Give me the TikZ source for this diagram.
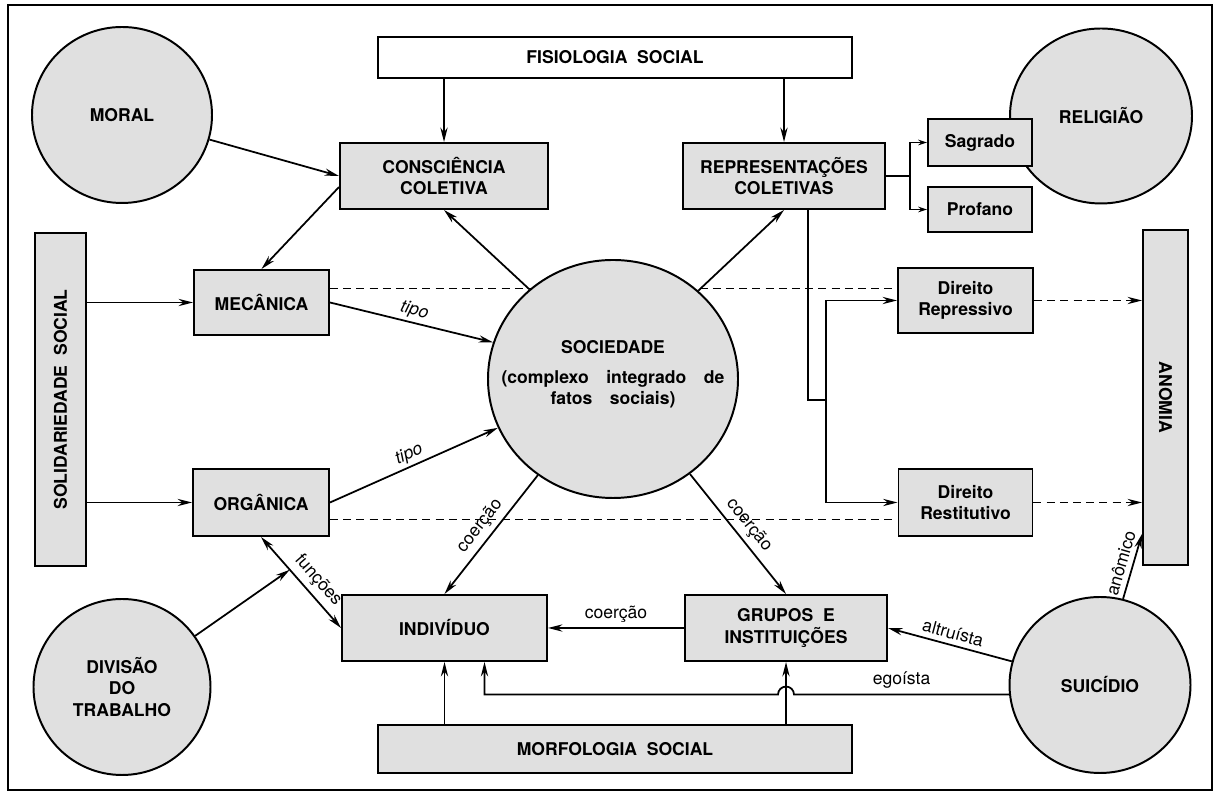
\documentclass[tikz,border=0pt]{standalone}
\usepackage{fontspec}
\setmainfont{TeX Gyre Heros}
\usetikzlibrary{arrows.meta,shapes.geometric,backgrounds,calc}
\begin{document}
\begin{tikzpicture}[x=.25cm,y=.25cm,>={Stealth[length=3.6mm,width=1.8mm]},line width=1.25pt,
  box/.style={draw,line width=1.4pt,fill=black!12,align=center,inner sep=0pt,font=\fontsize{12.5}{15}\selectfont\bfseries},
  blob/.style={box,ellipse},
  lbl/.style={font=\fontsize{12.5}{14}\selectfont,inner sep=3.5pt},
  dsh/.style={dash pattern=on 2mm off 1.3mm}]
\useasboundingbox (0,0) rectangle (121.6,79.6);
\draw[line width=1.6pt] (.8,.6) rectangle (121.2,79.1);
\node[box,fill=white,minimum width=11.85cm,minimum height=1.025cm] (fis) at (61.5,73.85) {FISIOLOGIA\ \ SOCIAL};
\node[box,minimum width=11.85cm,minimum height=1.2cm] (morf) at (61.5,4.7) {MORFOLOGIA\ \ SOCIAL};
\node[blob,minimum width=4.5cm,minimum height=4.4cm] (moral) at (12.2,68.1) {MORAL};
\node[blob,minimum width=4.55cm,minimum height=4.375cm] (rel) at (110.1,68) {RELIGIÃO};
\node[blob,minimum width=4.425cm,minimum height=4.4cm] (div) at (12.2,10.9) {DIVISÃO\\DO\\TRABALHO};
\node[blob,minimum width=4.525cm,minimum height=4.4cm] (suic) at (110,11.1) {SUICÍDIO};
\node[blob,minimum width=6.25cm,minimum height=5.95cm] (soc) at (61.3,41.7) {};
\node[font=\fontsize{12.5}{15}\selectfont\bfseries,align=center,yshift=1.2mm] (soctxt) at (soc) {SOCIEDADE\\[6pt](complexo\quad integrado\quad de\\fatos\quad sociais)};
\node[box,minimum width=5.2cm,minimum height=1.65cm] (cons) at (44.4,62) {CONSCIÊNCIA\\COLETIVA};
\node[box,minimum width=5.05cm,minimum height=1.65cm] (rep) at (78.4,62) {REPRESENTAÇÕES\\COLETIVAS};
\node[box,minimum width=2.6cm,minimum height=1.175cm] (sag) at (98,65.35) {Sagrado};
\node[box,minimum width=2.6cm,minimum height=1.125cm] (prof) at (98,58.65) {Profano};
\node[box,minimum width=1.275cm,minimum height=8.325cm] (soli) at (6.05,39.65) {\rotatebox{90}{SOLIDARIEDADE\ \ SOCIAL}};
\node[box,minimum width=1.125cm,minimum height=8.375cm] (anom) at (116.55,39.85) {\rotatebox{-90}{ANOMIA}};
\node[box,minimum width=3.375cm,minimum height=1.625cm] (mec) at (26.15,49.35) {MECÂNICA};
\node[box,minimum width=3.4cm,minimum height=1.675cm] (org) at (26.1,29.35) {ORGÂNICA};
\node[box,minimum width=3.375cm,minimum height=1.625cm] (drep) at (96.55,49.55) {Direito\\Repressivo};
\node[box,minimum width=3.35cm,minimum height=1.675cm] (drest) at (96.55,29.35) {Direito\\Restitutivo};
\node[box,minimum width=5.125cm,minimum height=1.65cm] (ind) at (44.45,16.8) {INDIVÍDUO};
\node[box,minimum width=5.05cm,minimum height=1.65cm] (grup) at (78.6,16.8) {GRUPOS\ \ E\\INSTITUIÇÕES};
\coordinate (br) at (91,62);
\coordinate (jct) at (82.6,39.6);
\begin{scope}[on background layer]
\draw[dsh] (mec.12) -- (mec.12 -| drep.west);
\draw[dsh] (org.346) -- (org.346 -| drest.west);
\end{scope}
\draw[->] (fis.south -| cons.north) -- (cons.north);
\draw[->] (fis.south -| rep.north) -- (rep.north);
\draw[->] (moral) -- (cons.west);
\draw[->] (cons.186) -- (mec.north);
\draw[->] (soc.133) -- (cons.south);
\draw[->] (soc.46) -- (rep.south);
\draw (rep.east) -- (br);
\draw[-{Stealth[length=2.2mm,width=1.4mm]}] (br) |- (sag.west);
\draw[-{Stealth[length=2.2mm,width=1.4mm]}] (br) |- (prof.west);
\draw[->] (soli.east |- mec.west) -- (mec.west);
\draw[->] (soli.east |- org.west) -- (org.west);
\draw[->] (mec.east) -- node[lbl,above,sloped,inner sep=2pt]{\textit{tipo}} (soc.163);
\draw[->] (org.east) -- node[lbl,above,sloped,inner sep=2pt]{\textit{tipo}} (soc.203);
\draw ([xshift=.6cm]rep.south) |- (jct);
\draw[->] (jct) |- (drep.west);
\draw[->] (jct) |- (drest.west);
\draw[dsh,->] (drep.east) -- (drep.east -| anom.west);
\draw[dsh,->] (drest.east) -- (drest.east -| anom.west);
\draw[->] (soc.232) -- node[lbl,above,sloped]{coerção} (ind.north);
\draw[->] (soc.309) -- node[lbl,above,sloped]{coerção} (grup.north);
\draw[->] (grup.west) -- node[lbl,above]{coerção} (ind.east);
\draw[<->] (org.south) -- node[lbl,above,sloped,pos=.58]{funções} coordinate[pos=.36] (fm) (ind.west);
\draw[->] (div) -- (fm);
\draw[->] (ind.south |- morf.north) -- (ind.south);
\draw[->] (grup.south |- morf.north) -- (grup.south);
\draw[->] (suic.186) -- node[lbl,above]{egoísta} ($(suic.186 -| grup.south)+(2mm,0)$) arc (0:180:2mm) -| ([xshift=1cm]ind.south);
\draw[->] (suic.165) -- node[lbl,above,sloped]{altruísta} (grup.east);
\draw[->] (suic.75) -- node[lbl,above,sloped]{anômico} ([yshift=.8cm]anom.south west);
\end{tikzpicture}
\end{document}
